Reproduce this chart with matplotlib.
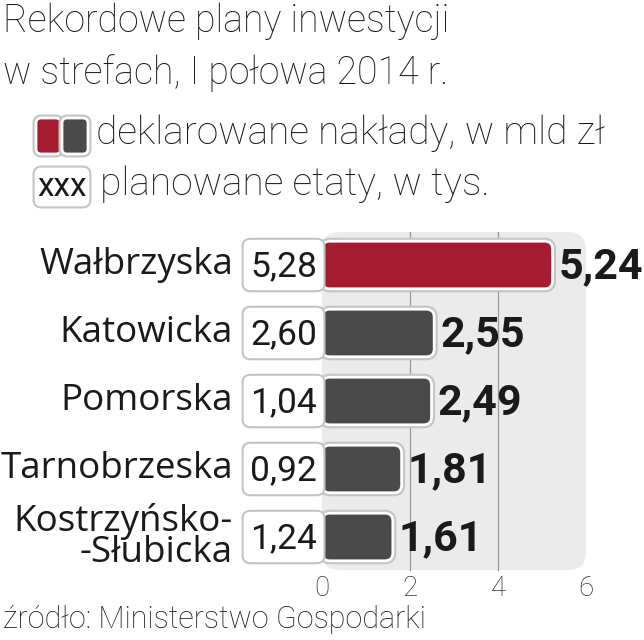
import matplotlib
matplotlib.use('Agg')
import matplotlib.pyplot as plt
from matplotlib.patches import FancyBboxPatch
import matplotlib.patheffects as pe

# data
strefy = ['Wałbrzyska', 'Katowicka', 'Pomorska', 'Tarnobrzeska', 'Kostrzyńsko-\n-Słubicka']
naklady = [5.24, 2.55, 2.49, 1.81, 1.61]
etaty = [5.28, 2.60, 1.04, 0.92, 1.24]
ticks = [0, 2, 4, 6]

RED = '#a51c30'
GRAY = '#4a4a4a'
PANEL = '#ebebeb'

light = ['Roboto', 'DejaVu Sans']

fig = plt.figure(figsize=(6.44, 6.40), dpi=100)
ax = fig.add_axes([0, 0, 1, 1])
# 1 unit = 44 px in x (0 at px 322), 68 px per row in y (row 0 at px 265)
ax.set_xlim(-322 / 44, (644 - 322) / 44)
ax.set_ylim((640 - 265) / 68, -265 / 68)
ax.axis('off')

def px(x):
    return (x - 322) / 44

def py(y):
    return (y - 265) / 68

asp = 44 / 68
h = 0.70

# gray panel behind bars
ax.add_patch(FancyBboxPatch((0, -0.485), 6, 4.97,
                            boxstyle='round,pad=0,rounding_size=0.4',
                            mutation_aspect=asp, fc=PANEL, ec='none', zorder=0))
for t in ticks[1:-1]:
    ax.plot([t, t], [-0.485, 4.485], color='#9a9a9a', lw=0.9, zorder=1)

shadow = [pe.Stroke(linewidth=5, foreground='#c4c4c4'), pe.Normal()]

for i, (s, v, e) in enumerate(zip(strefy, naklady, etaty)):
    col = RED if i == 0 else GRAY
    bar = FancyBboxPatch((0, i - h / 2), v, h,
                         boxstyle='round,pad=0,rounding_size=0.18',
                         mutation_aspect=asp, fc=col, ec='white', lw=2, zorder=3)
    bar.set_path_effects(shadow)
    ax.add_patch(bar)
    box = FancyBboxPatch((-1.75, i - h / 2), 1.75, h,
                         boxstyle='round,pad=0,rounding_size=0.12',
                         mutation_aspect=asp, fc='white', ec='white', lw=2, zorder=4)
    box.set_path_effects(shadow)
    ax.add_patch(box)
    ax.text(-0.875, i + 0.02, f'{e:.2f}'.replace('.', ','), ha='center', va='center',
            fontsize=25.5, family=light, color='#1a1a1a', zorder=5)
    ax.text(v + 0.14, i + 0.03, f'{v:.2f}'.replace('.', ','), ha='left', va='center',
            fontsize=31, family=light, fontweight='bold', color='#1a1a1a', zorder=5)
    ax.text(px(233), i, s, ha='right', va='center', fontsize=26.5,
            family=['Open Sans', 'DejaVu Sans'], color='#1a1a1a',
            linespacing=0.85, zorder=5)

for t in ticks:
    ax.text(t, py(588), str(t), ha='center', va='center', fontsize=20,
            family=light, fontweight='light', color='#333333')

# title
ax.text(px(3), py(3), 'Rekordowe plany inwestycji\nw strefach, I połowa 2014 r.',
        ha='left', va='top', fontsize=27, family=light, fontweight='light',
        color='#1a1a1a', linespacing=1.45)

# legend
leg1a = FancyBboxPatch((px(36), py(118)), px(61) - px(36), py(154) - py(118),
                       boxstyle='round,pad=0,rounding_size=0.12', mutation_aspect=asp,
                       fc=RED, ec='white', lw=2, zorder=3)
leg1b = FancyBboxPatch((px(62), py(118)), px(88) - px(62), py(154) - py(118),
                       boxstyle='round,pad=0,rounding_size=0.12', mutation_aspect=asp,
                       fc=GRAY, ec='white', lw=2, zorder=3)
leg2 = FancyBboxPatch((px(36), py(169)), px(88) - px(36), py(205) - py(169),
                      boxstyle='round,pad=0,rounding_size=0.12', mutation_aspect=asp,
                      fc='white', ec='white', lw=2, zorder=3)
for p in (leg1a, leg1b, leg2):
    p.set_path_effects(shadow)
    ax.add_patch(p)
ax.text(px(62), py(187), 'xxx', ha='center', va='center', fontsize=24,
        family=light, color='#1a1a1a', zorder=5)
ax.text(px(96), py(133), 'deklarowane nakłady, w mld zł', ha='left', va='center',
        fontsize=28, family=light, fontweight='light', color='#1a1a1a')
ax.text(px(100), py(184), 'planowane etaty, w tys.', ha='left', va='center',
        fontsize=28, family=light, fontweight='light', color='#1a1a1a')

# source
ax.text(px(3), py(619), 'źródło: Ministerstwo Gospodarki', ha='left', va='center',
        fontsize=22, family=light, fontweight='light', color='#1a1a1a')

fig.savefig('out.png', dpi=100, facecolor='white')
